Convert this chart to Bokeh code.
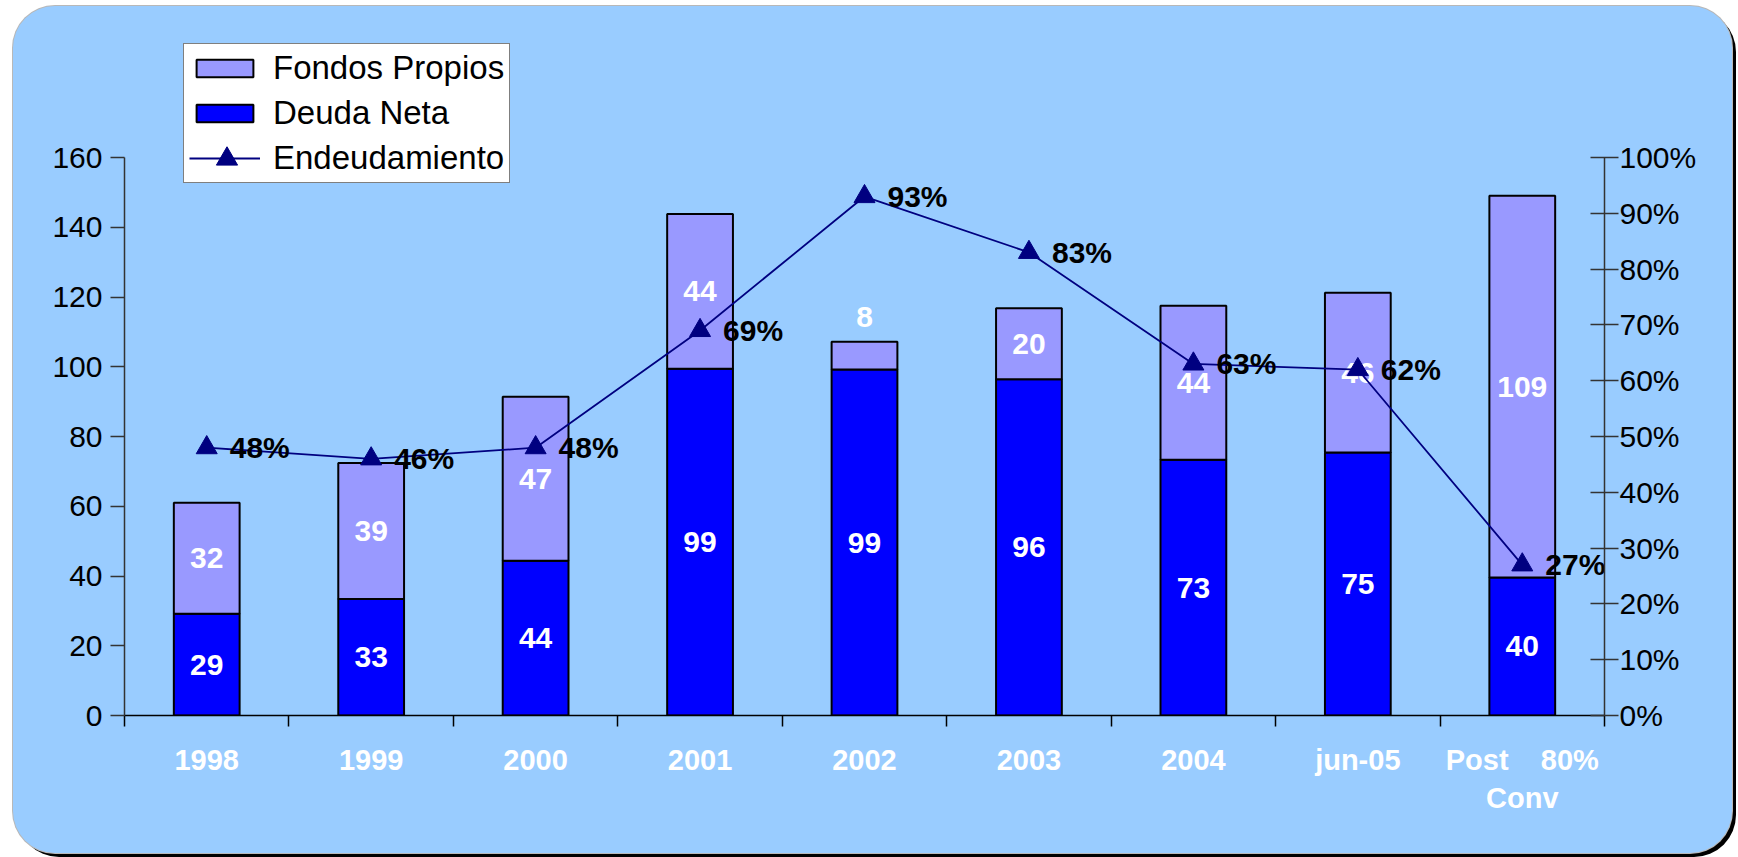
from bokeh.plotting import figure
from bokeh.models import (Range1d, LinearAxis, FixedTicker, Legend, LegendItem,
                          ColumnDataSource, NumeralTickFormatter)
from bokeh.core.properties import value
from bokeh.embed import file_html
from bokeh.resources import INLINE

# ---- data ----
categories = ["1998", "1999", "2000", "2001", "2002", "2003", "2004", "jun-05",
              "Post\u00a0\u00a0\u00a0\u00a080%\nConv"]
deuda_neta = [29.2, 33.4, 44.4, 99.4, 99.2, 96.4, 73.3, 75.4, 39.6]
fondos_propios = [31.8, 39.0, 47.0, 44.4, 8.0, 20.4, 44.2, 45.8, 109.4]
endeudamiento = [0.48, 0.46, 0.48, 0.69, 0.93, 0.83, 0.63, 0.62, 0.27]
left_ticks = [0, 20, 40, 60, 80, 100, 120, 140, 160]
right_ticks = [0, 0.1, 0.2, 0.3, 0.4, 0.5, 0.6, 0.7, 0.8, 0.9, 1.0]
series_names = ["Fondos Propios", "Deuda Neta", "Endeudamiento"]

FONT = "Liberation Sans"
BG = "#99CCFF"
NAVY = "#000080"

xs = [i + 0.5 for i in range(len(categories))]
totals = [d + f for d, f in zip(deuda_neta, fondos_propios)]
deuda_lab_y = [d / 2 for d in deuda_neta]
fondos_lab_y = [d + f / 2 if f >= 12 else d + f + 7 for d, f in zip(deuda_neta, fondos_propios)]

src = ColumnDataSource(dict(
    x=xs, deuda=deuda_neta, fondos=fondos_propios, total=totals,
    deuda_lab=[str(round(v)) for v in deuda_neta],
    fondos_lab=[str(round(v)) for v in fondos_propios],
    deuda_y=deuda_lab_y, fondos_y=fondos_lab_y,
    end=endeudamiento, end_lab=[f"{round(v * 100)}%" for v in endeudamiento],
))

W, H = 1719, 847
LEFT, RIGHT, TOP, BOTTOM = 111, 128, 20, 138
frame_h = H - TOP - BOTTOM          # px of plotting frame
axis_h = 558                        # px covered by 0..160
ymax = 160 * frame_h / axis_h
pmax = 1.0 * frame_h / axis_h
nx = len(categories)

p = figure(width=W, height=H, output_backend="svg", toolbar_location=None,
           x_range=Range1d(0, nx), y_range=Range1d(0, ymax),
           min_border_left=LEFT, min_border_right=RIGHT, min_border_top=TOP,
           min_border_bottom=BOTTOM, x_axis_location=None, y_axis_location=None)
p.extra_y_ranges = {"pct": Range1d(0, pmax)}
p.background_fill_alpha = 0
p.border_fill_alpha = 0
p.outline_line_color = None
p.xgrid.visible = False
p.ygrid.visible = False
p.styles = {"border-radius": "42px", "overflow": "hidden", "background-color": BG,
            "margin-left": "13px", "margin-top": "6px",
            "box-shadow": "0 0 0 1px #b8b8b8, 4px 4px 0 #000"}

# bars
r_deuda = p.vbar(x="x", width=0.4, bottom=0, top="deuda", source=src,
                 fill_color="#0000FF", line_color="black", line_width=2)
r_fondos = p.vbar(x="x", width=0.4, bottom="deuda", top="total", source=src,
                  fill_color="#9999FF", line_color="black", line_width=2)

# bar labels
for col, ycol in (("deuda_lab", "deuda_y"), ("fondos_lab", "fondos_y")):
    p.text(x="x", y=ycol, text=col, source=src, text_color="white",
           text_font=value(FONT), text_font_style="bold", text_font_size="30px",
           text_align="center", text_baseline="middle")

# line
r_line = p.line(x="x", y="end", source=src, y_range_name="pct",
                line_color=NAVY, line_width=1.8)
r_pts = p.scatter(x="x", y="end", source=src, y_range_name="pct", marker="triangle",
                  size=21, fill_color=NAVY, line_color=NAVY)
p.text(x="x", y="end", text="end_lab", source=src, y_range_name="pct",
       x_offset=23, text_color="black", text_font=value(FONT), text_font_style="bold",
       text_font_size="30px", text_align="left", text_baseline="middle")

# axes
xaxis = LinearAxis(ticker=FixedTicker(ticks=xs, minor_ticks=list(range(nx + 1))),
                   major_label_overrides={x: c for x, c in zip(xs, categories)})
xaxis.major_tick_line_color = None
xaxis.major_tick_out = 0
xaxis.major_tick_in = 0
xaxis.minor_tick_out = 11
xaxis.minor_tick_in = 0
xaxis.minor_tick_line_color = "black"
xaxis.minor_tick_line_width = 1.5
xaxis.axis_line_color = "black"
xaxis.axis_line_width = 1.5
xaxis.major_label_standoff = 17
xaxis.major_label_text_color = "white"
xaxis.major_label_text_font = FONT
xaxis.major_label_text_font_style = "bold"
xaxis.major_label_text_font_size = "29px"
p.add_layout(xaxis, "below")

yaxis = LinearAxis(ticker=FixedTicker(ticks=left_ticks, minor_ticks=[]), bounds=(0, 160))
yaxis.major_tick_out = 14
yaxis.major_tick_in = 0
yaxis.major_tick_line_color = "#333333"
yaxis.major_tick_line_width = 1.5
yaxis.axis_line_color = "#333333"
yaxis.axis_line_width = 1.5
yaxis.major_label_standoff = 8
yaxis.major_label_text_font = FONT
yaxis.major_label_text_font_size = "30px"
yaxis.major_label_text_color = "black"
p.add_layout(yaxis, "left")

raxis = LinearAxis(y_range_name="pct", ticker=FixedTicker(ticks=right_ticks, minor_ticks=[]),
                   formatter=NumeralTickFormatter(format="0%"), bounds=(0, 1))
raxis.major_tick_out = 14
raxis.major_tick_in = 14
raxis.major_tick_line_color = "#333333"
raxis.major_tick_line_width = 1.5
raxis.axis_line_color = "#333333"
raxis.axis_line_width = 1.5
raxis.major_label_standoff = 1
raxis.major_label_text_font = FONT
raxis.major_label_text_font_size = "30px"
raxis.major_label_text_color = "black"
p.add_layout(raxis, "right")

# legend
LEG_X, LEG_Y = 59, 532
PAD, GW, GH, LH, SP = 5, 71, 22, 38, 7
legend = Legend(items=[
    LegendItem(label=series_names[0], renderers=[r_fondos]),
    LegendItem(label=series_names[1], renderers=[r_deuda]),
    LegendItem(label=series_names[2], renderers=[r_line, r_pts]),
], location=(LEG_X, LEG_Y))
legend.background_fill_color = "white"
legend.background_fill_alpha = 1
legend.border_line_color = "black"
legend.border_line_width = 1
legend.label_text_font = FONT
legend.label_text_font_size = "33px"
legend.label_text_color = "black"
legend.glyph_width = GW
legend.glyph_height = GH
legend.label_height = LH
legend.label_standoff = 13
legend.padding = PAD
legend.spacing = SP
legend.margin = 0
p.add_layout(legend, "center")

# second, transparent legend that overlays a full-size triangle on the line sample
MK = 53   # legend markers are drawn at 0.4 x glyph box -> ~21 px
mk_cx = LEG_X + PAD + 6 + GW / 2
mk_cy = LEG_Y + PAD + LH / 2 + 1
legend2 = Legend(items=[LegendItem(label=" ", renderers=[r_pts])],
                 location=(round(mk_cx - MK / 2 - 3), round(mk_cy - MK / 2)))
legend2.background_fill_alpha = 0
legend2.border_line_color = None
legend2.glyph_width = MK
legend2.glyph_height = MK
legend2.label_height = MK
legend2.label_width = 1
legend2.label_standoff = 0
legend2.label_text_font_size = "10px"
legend2.padding = 0
legend2.spacing = 0
legend2.margin = 0
p.add_layout(legend2, "center")

open("out.html", "w").write(file_html(p, INLINE))
